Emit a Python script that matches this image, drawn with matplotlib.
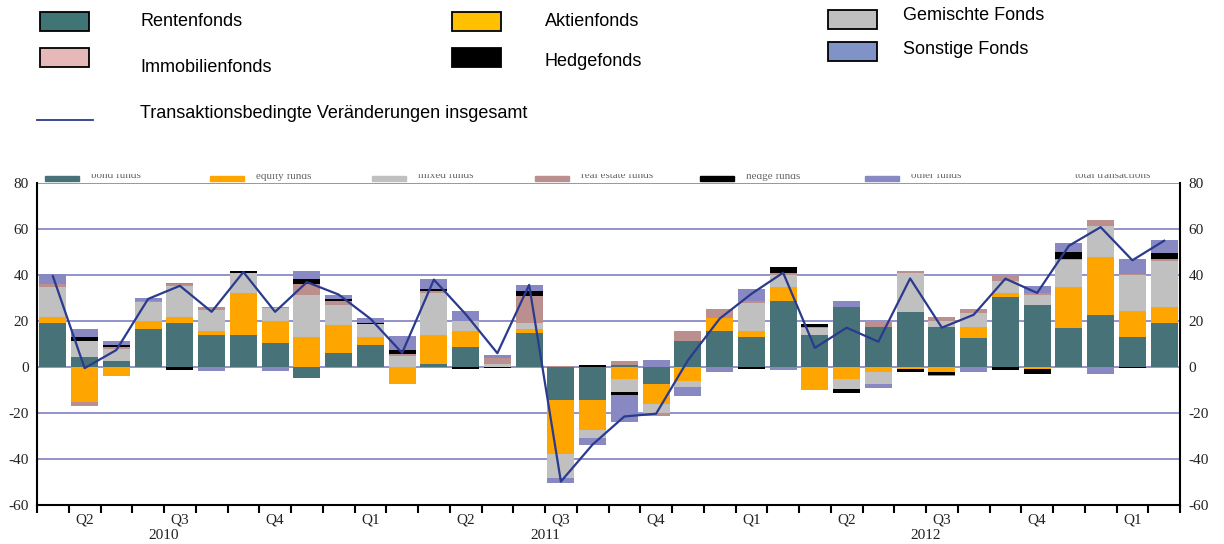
import numpy as np
import matplotlib
matplotlib.use("Agg")
from matplotlib import pyplot as plt
from matplotlib.patches import Rectangle
from matplotlib.lines import Line2D

plt.rcParams["axes.unicode_minus"] = False

# monthly flows, April 2010 .. March 2013 (bn EUR)
bond = [19.3, 4.4, 2.6, 16.5, 19.3, 13.9, 13.9, 10.5, -4.7, 6.1, 9.5, 0.0,
        1.2, 8.8, 0.0, 14.6, -14.3, -14.3, 0.7, -7.6, 11.3, 15.8, 13.2, 28.8,
        13.9, 26.0, 17.3, 23.7, 17.6, 12.4, 30.5, 27.1, 16.8, 22.7, 13.2, 19.3]
equity = [2.3, -15.4, -4.1, 3.5, 2.3, 1.9, 18.3, 9.7, 13.2, 12.2, 3.7, -7.5,
          12.7, 7.0, 0.0, 1.8, -23.4, -13.2, -5.1, -8.5, -5.9, 5.3, 2.6, 6.0,
          -10.0, -5.0, -2.2, -0.7, -2.2, 5.1, 1.8, -0.7, 18.0, 25.2, 11.3, 6.9]
mixed = [13.2, 6.9, 5.4, 8.3, 13.8, 9.1, 8.5, 5.3, 18.3, 8.7, 5.5, 4.7,
         18.3, 4.4, 1.5, 2.6, -10.5, -3.2, -5.9, -4.1, -2.6, 0.0, 12.0, 5.0,
         2.9, -4.4, -5.0, 17.3, 2.6, 5.9, 5.1, 4.4, 11.6, 13.6, 15.5, 19.9]
real_estate = [1.5, -1.5, 0.7, 0.6, 0.6, 1.2, 0.0, 0.7, 4.4, 1.8, 0.0, 0.9,
               1.0, 0.0, 2.2, 12.0, 0.6, 0.0, 1.8, -1.0, 4.5, 4.1, 0.9, 0.9,
               0.7, 0.0, 2.9, 0.7, 1.5, 1.8, 2.6, 0.7, 0.6, 2.5, 0.6, 0.7]
hedge = [0.0, 1.6, 0.7, 0.0, -1.3, 0.0, 0.9, 0.0, 2.2, 0.9, 0.6, 1.8,
         0.9, -0.7, -0.6, 2.2, 0.0, 1.0, -1.0, 0.0, 0.0, 0.0, -0.7, 2.8,
         1.0, -1.8, 0.0, -1.5, -1.3, 0.0, -1.2, -2.2, 3.2, 0.0, -0.4, 2.6]
other = [4.0, 3.5, 1.9, 0.9, 0.6, -1.7, 0.0, -1.7, 3.5, 1.8, 1.9, 6.2,
         4.0, 4.0, 1.7, 2.5, -2.2, -3.2, -11.7, 2.9, -4.1, -2.2, 5.3, -1.5,
         0.0, 2.5, -1.8, 0.0, -0.4, -2.2, 0.0, 3.2, 3.5, -2.9, 6.3, 5.9]
total = [39.5, -0.5, 7.4, 29.6, 35.3, 24.0, 41.3, 24.0, 36.9, 31.5, 21.0, 6.1,
         38.0, 23.0, 6.0, 35.7, -49.8, -33.7, -21.5, -20.3, 2.9, 21.0, 31.8, 41.0,
         8.3, 17.1, 11.0, 38.5, 17.1, 22.7, 38.4, 32.2, 52.7, 60.8, 46.4, 54.9]

quarters = ["Q2", "Q3", "Q4", "Q1", "Q2", "Q3", "Q4", "Q1", "Q2", "Q3", "Q4", "Q1"]
years = ["2010", "2011", "2012"]
year_pos = [3.5, 15.5, 27.5]

series = [bond, equity, mixed, real_estate, hedge, other]
bar_colors = ["#477378", "#FFA500", "#C0C0C0", "#BC8F8F", "#000000", "#8888C2"]

W, H = 1224, 544
fig = plt.figure(figsize=(W / 100, H / 100), dpi=100)


def fx(px):
    return px / W


def fy(py):
    return 1 - py / H


ax = fig.add_axes([fx(37), fy(505), fx(1180 - 37), (505 - 183) / H])

x = np.arange(len(total))
pos_base = np.zeros(len(x))
neg_base = np.zeros(len(x))
for vals, col in zip(series, bar_colors):
    v = np.array(vals)
    p = np.where(v > 0, v, 0)
    n = np.where(v < 0, v, 0)
    ax.bar(x, p, 0.85, bottom=pos_base, color=col, zorder=2, linewidth=0)
    ax.bar(x, n, 0.85, bottom=neg_base, color=col, zorder=2, linewidth=0)
    pos_base += p
    neg_base += n

ax.plot(x, total, color="#2A3A8E", lw=1.6, zorder=3)

for g in [-40, -20, 0, 20, 40, 60, 80]:
    ax.axhline(g, color="#8A8AC8", lw=1.3, zorder=1)

ax.set_xlim(-0.5, 35.5)
ax.set_ylim(-60, 80)
ax.set_yticks(range(-60, 81, 20))
ax.tick_params(axis="y", length=0, pad=6, labelsize=11, labelright=True,
               labelcolor="#222222")
for lab in ax.get_yticklabels():
    lab.set_family("Liberation Serif")

ax.set_xticks(np.arange(-0.5, 36, 1))
ax.set_xticklabels([])
ax.tick_params(axis="x", length=6, width=1.5, direction="out")
for i, q in enumerate(quarters):
    ax.text(1 + 3 * i, -63.5, q, ha="center", va="top", fontsize=11,
            family="Liberation Serif", color="#222222")
for pos, yr in zip(year_pos, years):
    ax.text(pos, -70.5, yr, ha="center", va="top", fontsize=11,
            family="Liberation Serif", color="#222222")

ax.spines["top"].set_visible(False)
for s in ["left", "right", "bottom"]:
    ax.spines[s].set_linewidth(1.5)
    ax.spines[s].set_color("black")

# remains of the english legend, cut off at the top
strip = fig.add_axes([fx(37), fy(183), fx(1180 - 37), 9 / H])
strip.set_xlim(37, 1180)
strip.set_ylim(183, 174)
strip.axis("off")
old_leg = [(45, "bond funds"), (210, "equity funds"), (372, "mixed funds"),
           (535, "real estate funds"), (700, "hedge funds"), (865, "other funds")]
for (x0, txt), col in zip(old_leg, bar_colors):
    strip.add_patch(Rectangle((x0, 176), 34, 5, color=col, clip_on=True))
    strip.text(x0 + 46, 176, txt, fontsize=8, color="#666666", va="center",
               clip_on=True, family="Liberation Serif")
strip.text(1075, 176, "total transactions", fontsize=8, color="#666666",
           va="center", clip_on=True, family="Liberation Serif")

# german legend above the chart
leg_colors = ["#3F7575", "#FFC000", "#C0C0C0", "#E6B9B8", "#000000", "#8093C8"]
leg_items = [("Rentenfonds", 40, 12, 140, 22),
             ("Aktienfonds", 452, 12, 545, 22),
             ("Gemischte Fonds", 828, 10, 903, 16),
             ("Immobilienfonds", 40, 48, 140, 67),
             ("Hedgefonds", 452, 48, 545, 62),
             ("Sonstige Fonds", 828, 42, 903, 50)]
for (txt, px, py, tx, ty), col in zip(leg_items, leg_colors):
    fig.add_artist(Rectangle((fx(px), fy(py + 19)), fx(49), 19 / H,
                             facecolor=col, edgecolor="black", lw=1.3,
                             transform=fig.transFigure))
    fig.text(fx(tx), fy(ty), txt, fontsize=13, family="Liberation Sans",
             va="center", ha="left")
fig.add_artist(Line2D([fx(37), fx(93)], [fy(120), fy(120)], color="#2A3A8E",
                      lw=1.3, transform=fig.transFigure))
fig.text(fx(140), fy(113), "Transaktionsbedingte Veränderungen insgesamt",
         fontsize=13, family="Liberation Sans", va="center", ha="left")

fig.savefig("out.png", dpi=100)
